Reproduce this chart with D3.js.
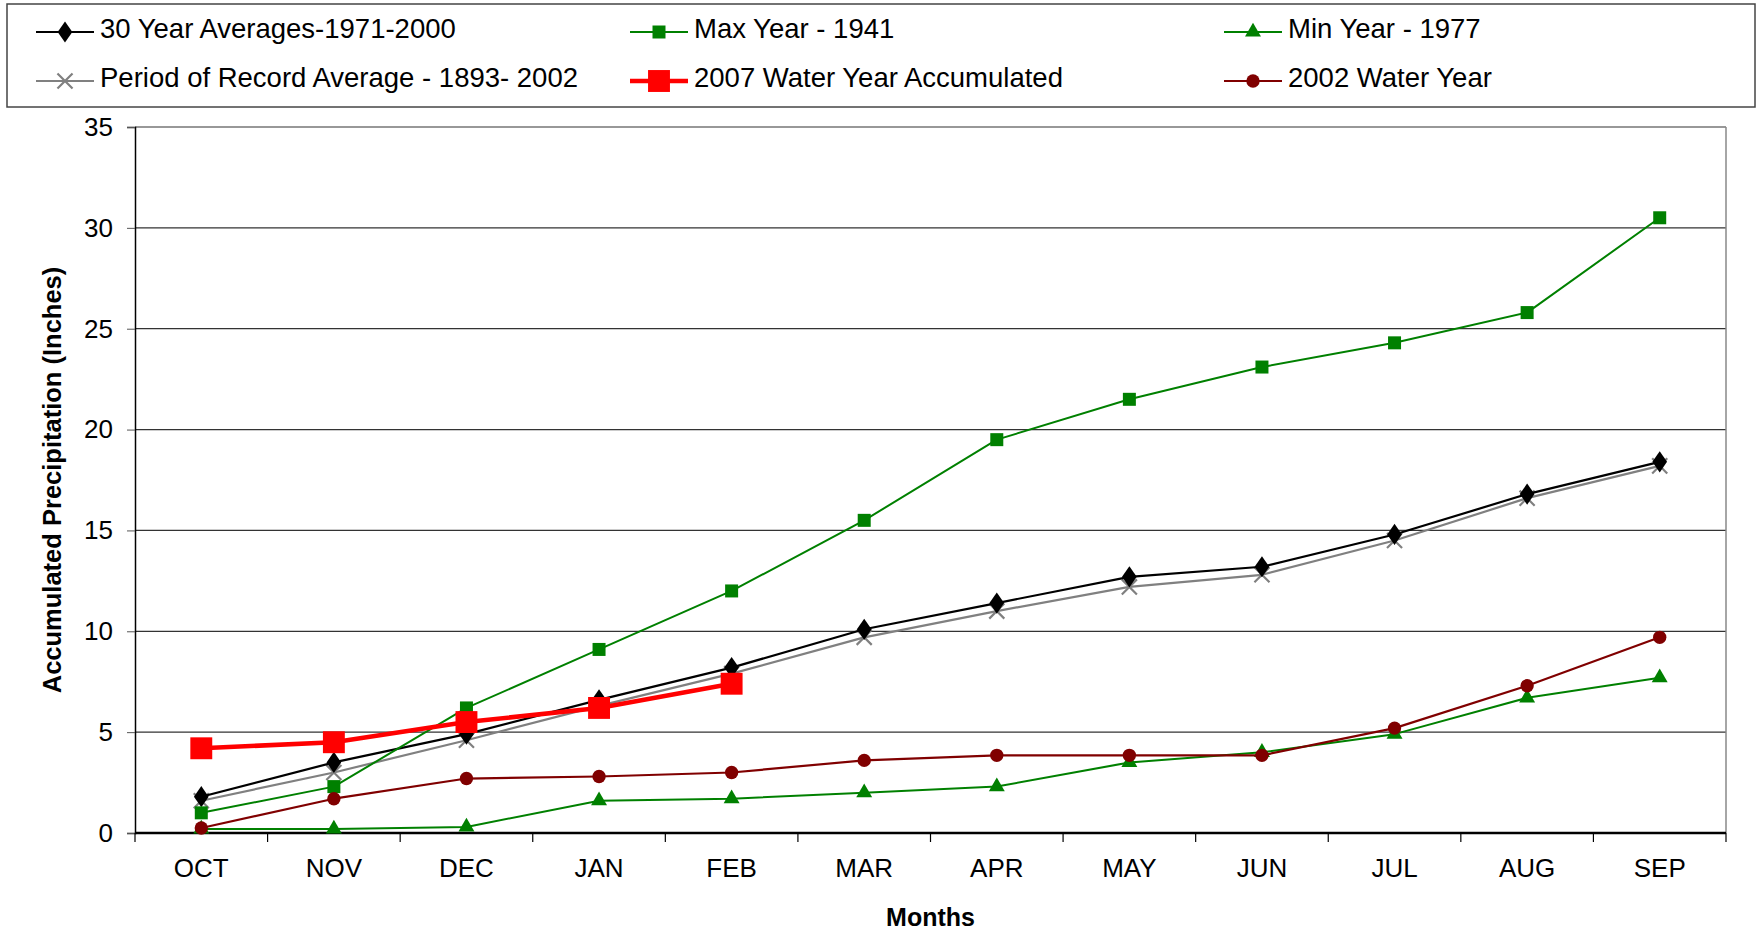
<!DOCTYPE html>
<html><head><meta charset="utf-8">
<script src="https://cdn.jsdelivr.net/npm/d3@7"></script>
<style>body{margin:0;background:#fff}svg{display:block}text{font-family:"Liberation Sans",Arial,sans-serif}</style>
</head><body><svg id="c" width="1757" height="931"></svg>
<script>
const months = ["OCT","NOV","DEC","JAN","FEB","MAR","APR","MAY","JUN","JUL","AUG","SEP"];
const yTicks = [0,5,10,15,20,25,30,35];
const avg30 = [1.8,3.5,4.9,6.6,8.2,10.1,11.4,12.7,13.2,14.8,16.8,18.4];
const periodAvg = [1.6,3.0,4.6,6.3,7.9,9.7,11.0,12.2,12.8,14.5,16.6,18.2];
const maxYear = [1.0,2.3,6.2,9.1,12.0,15.5,19.5,21.5,23.1,24.3,25.8,30.5];
const minYear = [0.2,0.2,0.3,1.6,1.7,2.0,2.3,3.5,4.0,4.9,6.7,7.7];
const wy2007 = [4.2,4.5,5.5,6.2,7.4];
const wy2002 = [0.25,1.7,2.7,2.8,3.0,3.6,3.85,3.85,3.85,5.2,7.3,9.7];

const series = [
  {name:"30 Year Averages-1971-2000", values:avg30, color:"#000000", width:2.2, marker:"diamond", msize:130, col:0,row:0},
  {name:"Max Year - 1941", values:maxYear, color:"#008000", width:2, marker:"square", msize:169, col:1,row:0},
  {name:"Min Year - 1977", values:minYear, color:"#008000", width:2, marker:"triangle", msize:110, col:2,row:0},
  {name:"Period of Record Average - 1893- 2002", values:periodAvg, color:"#808080", width:2.2, marker:"x", msize:150, col:0,row:1},
  {name:"2007 Water Year Accumulated", values:wy2007, color:"#FF0000", width:4.5, marker:"square", msize:480, col:1,row:1},
  {name:"2002 Water Year", values:wy2002, color:"#800000", width:2.2, marker:"circle", msize:140, col:2,row:1}
];
const drawOrder = [3,0,1,2,5,4];

const svg = d3.select("#c");
const L=135,R=1726,T=127,B=833;
const x = d3.scaleBand().domain(months).range([L,R]);
const y = d3.scaleLinear().domain([0,35]).range([B,T]);

svg.append("g").selectAll("line").data(yTicks.filter(d=>d>0)).join("line")
  .attr("x1",L).attr("x2",R).attr("y1",d=>y(d)).attr("y2",d=>y(d))
  .attr("stroke","#333").attr("stroke-width",1.2);
svg.append("line").attr("x1",R).attr("x2",R).attr("y1",T).attr("y2",B).attr("stroke","#888").attr("stroke-width",1.5);

const ya = svg.append("g").attr("transform",`translate(${L},0)`)
  .call(d3.axisLeft(y).tickValues(yTicks).tickSize(8).tickPadding(14));
ya.select(".domain").attr("stroke","#000").attr("stroke-width",1.5);
ya.selectAll(".tick line").attr("stroke","#555");
ya.selectAll("text").attr("font-size",26).attr("fill","#000").attr("font-family","Liberation Sans, Arial, sans-serif");

const xa = svg.append("g").attr("transform",`translate(0,${B})`)
  .call(d3.axisBottom(x).tickSize(0).tickPadding(26));
xa.select(".domain").remove();
xa.selectAll("text").attr("font-size",26).attr("fill","#000").attr("font-family","Liberation Sans, Arial, sans-serif");
svg.append("line").attr("x1",L).attr("x2",R).attr("y1",B).attr("y2",B).attr("stroke","#000").attr("stroke-width",2.5);
const bounds = months.map(m=>x(m)).concat([R]);
svg.append("g").selectAll("line").data(bounds).join("line")
  .attr("x1",d=>d).attr("x2",d=>d).attr("y1",B).attr("y2",B+9).attr("stroke","#000").attr("stroke-width",1.2);

svg.append("text").attr("transform",`translate(54,${(T+B)/2}) rotate(-90)`).attr("text-anchor","middle")
  .attr("dominant-baseline","middle").attr("font-size",25.5).attr("font-weight","bold").text("Accumulated Precipitation (Inches)");
svg.append("text").attr("x",(L+R)/2).attr("y",919).attr("text-anchor","middle").attr("dominant-baseline","middle")
  .attr("font-size",25).attr("font-weight","bold").text("Months");

const symType = {diamond:d3.symbolDiamond, square:d3.symbolSquare, triangle:d3.symbolTriangle, circle:d3.symbolCircle, x:d3.symbolTimes};
function drawMarker(g,s,cx,cy){
  const sym = d3.symbol().type(symType[s.marker]).size(s.msize);
  const p = g.append("path").attr("d",sym()).attr("transform",`translate(${cx},${cy})`);
  if(s.marker==="x"){ p.attr("fill","none").attr("stroke",s.color).attr("stroke-width",2.2); }
  else if(s.marker==="diamond"){ p.attr("fill",s.color).attr("transform",`translate(${cx},${cy}) scale(1.2,1)`); }
  else p.attr("fill",s.color);
}
const line = d3.line().x((d,i)=>x(months[i])+x.bandwidth()/2).y(d=>y(d));
drawOrder.forEach(k=>{
  const s = series[k];
  const g = svg.append("g");
  g.append("path").datum(s.values).attr("d",line).attr("fill","none").attr("stroke",s.color).attr("stroke-width",s.width).attr("stroke-linejoin","round");
  s.values.forEach((v,i)=>drawMarker(g,s,x(months[i])+x.bandwidth()/2,y(v)));
});

svg.append("rect").attr("x",7).attr("y",4).attr("width",1748).attr("height",103).attr("fill","none").attr("stroke","#444").attr("stroke-width",1.5);
const colX=[36,630,1224], rowY=[32,81];
series.forEach(s=>{
  const lx=colX[s.col], ly=rowY[s.row];
  const g=svg.append("g");
  g.append("line").attr("x1",lx).attr("x2",lx+58).attr("y1",ly).attr("y2",ly).attr("stroke",s.color).attr("stroke-width",s.width);
  drawMarker(g,s,lx+29,ly);
  g.append("text").attr("x",lx+64).attr("y",ly-1).attr("dominant-baseline","middle").attr("font-size",27.5).text(s.name);
});
</script></body></html>
